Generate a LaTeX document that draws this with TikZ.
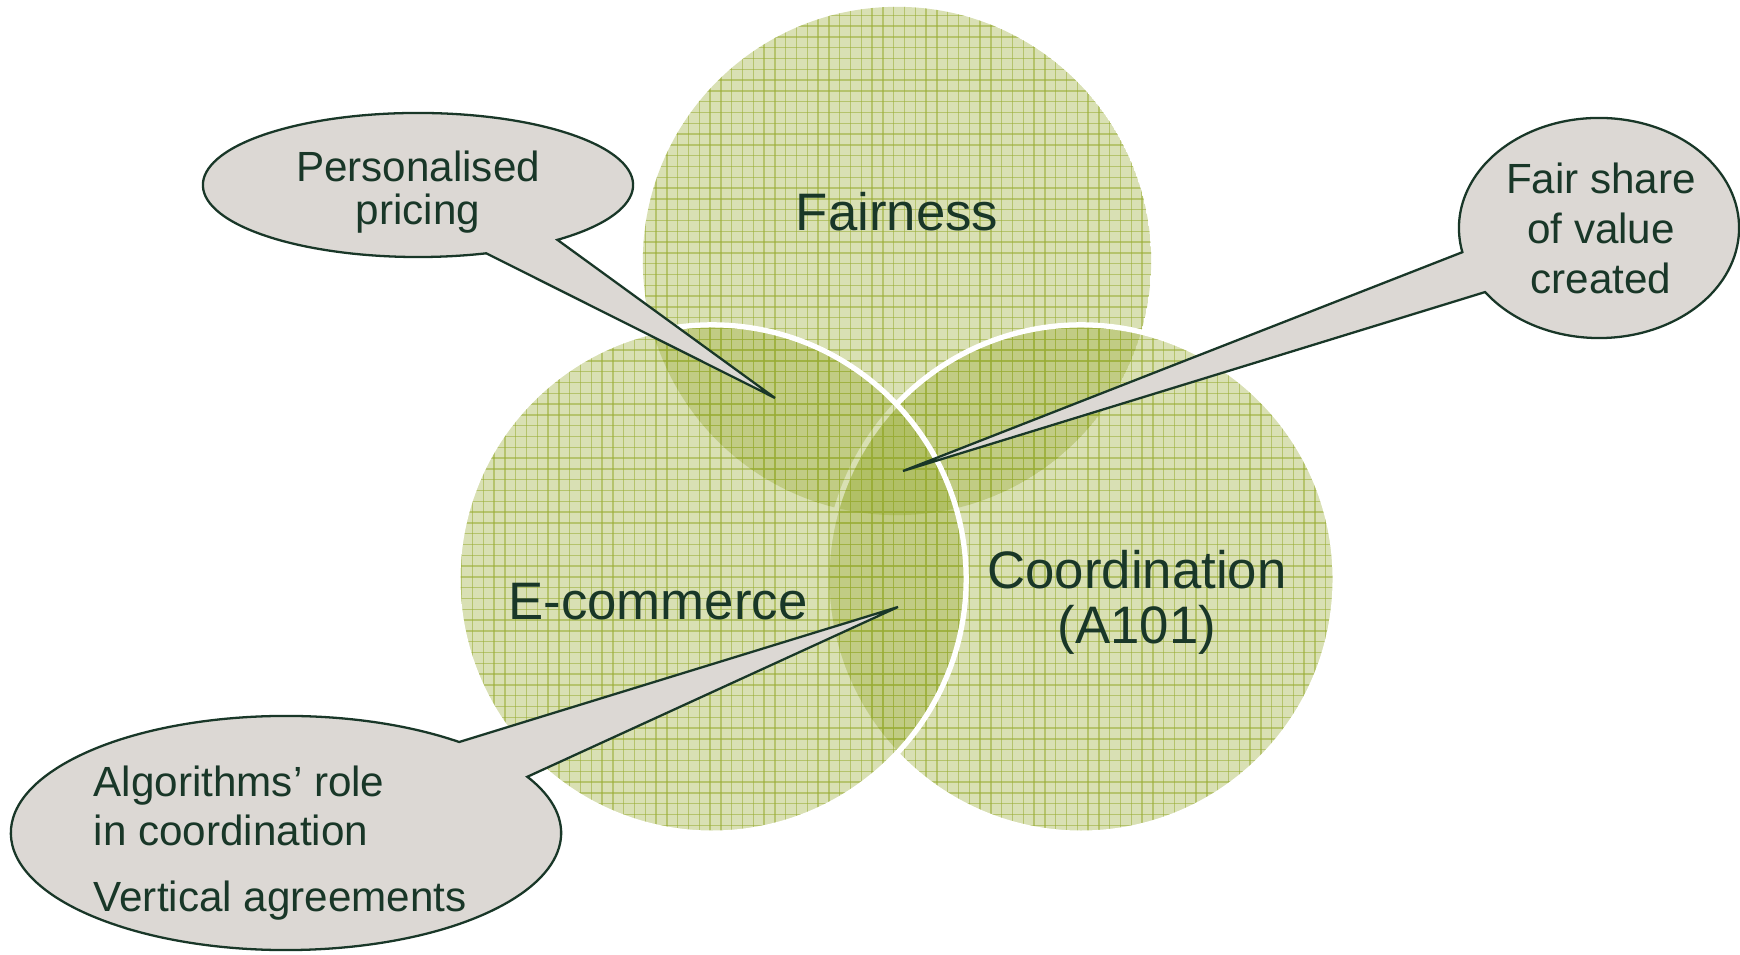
\documentclass[tikz,border=0pt]{standalone}
\usepackage{fontspec}
\setmainfont{Liberation Sans}
\definecolor{venngreen}{RGB}{152,172,52}
\definecolor{inkgreen}{RGB}{25,55,40}
\definecolor{bubblegray}{RGB}{220,216,212}
\newcommand{\gridcircle}[1]{%
  \begin{scope}
    \clip (#1) circle[radius=2.54cm];
    \fill[venngreen, opacity=0.37] (#1) circle[radius=2.54cm];
    \foreach \k in {0,...,83} \draw[gridline] ({440+10.8*\k},100) -- ({440+10.8*\k},955);
    \foreach \k in {10,...,89} \draw[gridline] (440,{10.8*\k}) -- (1340,{10.8*\k});
  \end{scope}}
\begin{document}
\begin{tikzpicture}[x=0.01cm, y=0.01cm,
  gridline/.style={venngreen, opacity=0.55, line width=0.4pt},
  rim/.style={white, line width=1.5pt},
  callout/.style={fill=bubblegray, draw=inkgreen, line width=0.65pt, line join=miter},
  bigtext/.style={font=\fontsize{15pt}{15pt}\selectfont, text=inkgreen, inner sep=0pt, align=center},
  smalltext/.style={font=\fontsize{12pt}{14pt}\selectfont, text=inkgreen, inner sep=0pt, align=center}]
  \useasboundingbox[fill=white] (0,0) rectangle (1740,955);

  % circle centres
  \coordinate (cfair) at (897,694);
  \coordinate (cecom) at (712,376);
  \coordinate (ccoord) at (1081,376);

  % the three overlapping circles
  \gridcircle{cfair}
  \gridcircle{ccoord}
  \draw[rim] (ccoord) circle[radius=2.54cm];
  \gridcircle{cecom}
  \draw[rim] (cecom) circle[radius=2.54cm];

  % circle labels (base anchor = baseline of the last line)
  \node[bigtext, anchor=base] (fairness) at (897,724) {Fairness};
  \node[bigtext, anchor=base] (ecom) at (658,335) {E-commerce};
  \node[bigtext, anchor=base, font=\fontsize{15pt}{15.7pt}\selectfont] (coord) at (1137,311) {Coordination\\(A101)};

  % pointer tips
  \coordinate (tipP) at (775,557);
  \coordinate (tipF) at (903,484);
  \coordinate (tipA) at (898,348);

  % speech bubbles
  \filldraw[callout] (418,770) ++(-49.6:2.15cm and 0.72cm)
    arc[start angle=-49.6, end angle=288.5, x radius=2.15cm, y radius=0.72cm] -- (tipP) -- cycle;
  \filldraw[callout] (1599,727) ++(215.6:1.40cm and 1.10cm)
    arc[start angle=215.6, end angle=552.7, x radius=1.40cm, y radius=1.10cm] -- (tipF) -- cycle;
  \filldraw[callout] (286,122) ++(51:2.75cm and 1.17cm)
    arc[start angle=51, end angle=388.7, x radius=2.75cm, y radius=1.17cm] -- (tipA) -- cycle;

  % bubble texts
  \node[smalltext, anchor=base, font=\fontsize{12pt}{12.5pt}\selectfont] (pp) at (418,730) {Personalised\\pricing};
  \node[smalltext, anchor=base, font=\fontsize{12pt}{14.3pt}\selectfont] (fs) at (1601,661) {Fair share\\of value\\created};
  \node[smalltext, anchor=base west, align=left, font=\fontsize{12pt}{13.9pt}\selectfont] (alg) at (93,43)
    {Algorithms’ role\\in coordination\\[5pt]Vertical agreements};
\end{tikzpicture}
\end{document}
